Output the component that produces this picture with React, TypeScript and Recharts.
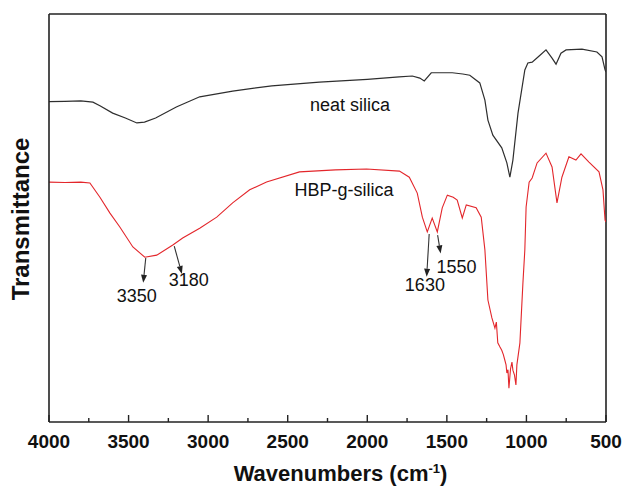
import { LineChart, Line, XAxis, YAxis, ReferenceLine, ReferenceDot } from "recharts";

const FONT = '"Liberation Sans", Arial, sans-serif';

// wavenumber (cm-1) and relative transmittance (arbitrary, 0-100)
const neatWn = [4000, 3900, 3800, 3724, 3680, 3600, 3520, 3448, 3400, 3330, 3200, 3053, 2846, 2600, 2301, 2000, 1800, 1717, 1670, 1642, 1598, 1466, 1400, 1356, 1293, 1261, 1242, 1211, 1155, 1123, 1104, 1085, 1053, 1010, 991, 964, 920, 877, 839, 814, 783, 751, 651, 557, 525, 506, 500];
const neatT = [78.5, 78.6, 78.7, 78.4, 77.5, 75.7, 74.5, 73.3, 73.5, 74.5, 77.2, 79.7, 81.1, 82.4, 83.3, 84.0, 84.6, 84.8, 84.3, 83.6, 85.6, 85.6, 85.3, 85.0, 83.1, 78.9, 74.0, 70.3, 67.2, 63.5, 60.0, 64.2, 75.7, 86.3, 88.0, 88.2, 89.7, 91.2, 89.2, 87.7, 90.4, 91.2, 91.4, 90.7, 89.5, 86.3, 85.8];

const hbpWn = [4000, 3900, 3800, 3743, 3680, 3617, 3555, 3473, 3398, 3323, 3222, 3160, 3053, 2946, 2846, 2739, 2633, 2426, 2200, 2005, 1798, 1736, 1686, 1654, 1623, 1592, 1560, 1529, 1497, 1460, 1435, 1403, 1378, 1316, 1284, 1261, 1242, 1217, 1198, 1189, 1180, 1168, 1155, 1145, 1136, 1128, 1123, 1116, 1110, 1100, 1091, 1085, 1075, 1066, 1060, 1041, 1022, 1010, 1002, 983, 964, 933, 877, 839, 808, 777, 733, 689, 657, 607, 544, 519, 506, 500];
const hbpT = [58.8, 58.7, 58.8, 58.6, 55.1, 51.2, 47.8, 42.9, 40.4, 40.9, 43.4, 45.1, 47.5, 50.2, 53.7, 56.9, 58.8, 61.3, 61.8, 62.0, 61.5, 60.0, 56.1, 50.2, 46.6, 50.0, 46.6, 52.5, 55.6, 55.1, 54.4, 50.0, 53.2, 52.5, 50.2, 42.2, 29.9, 25.5, 23.0, 24.5, 19.4, 18.5, 17.6, 16.5, 15.2, 14.0, 12.0, 12.8, 8.3, 13.0, 14.7, 12.7, 11.5, 9.1, 14.0, 19.4, 34.1, 42.2, 52.7, 58.8, 59.8, 63.5, 65.9, 62.5, 53.7, 60.0, 65.0, 64.2, 65.7, 63.7, 61.3, 56.9, 49.5, 49.0];

const xTicks = [4000, 3750, 3500, 3250, 3000, 2750, 2500, 2250, 2000, 1750, 1500, 1250, 1000, 750, 500];

// text labels: [text, wavenumber, transmittance]
const labelText = ["neat silica", "HBP-g-silica", "3350", "3180", "1630", "1550"];
const labelWn = [2109, 2146, 3449, 3122, 1638, 1440];
const labelT = [77.7, 56.9, 31.1, 34.8, 33.6, 38.0];

// arrows: from (wn1, t1) to (wn2, t2)
const arrowFromWn = [3392, 3213, 1611, 1558];
const arrowFromT = [40.2, 43.1, 46.1, 45.8];
const arrowToWn = [3408, 3165, 1627, 1539];
const arrowToT = [34.1, 36.3, 35.6, 41.3];

const neatData = neatWn.map((wn, i) => ({ wn, t: neatT[i] }));
const hbpData = hbpWn.map((wn, i) => ({ wn, t: hbpT[i] }));

const XTick = (props: any) => {
  const { x, y, payload } = props;
  const major = payload.value % 500 === 0;
  return (
    <g>
      <line x1={x} x2={x} y1={y} y2={y - (major ? 7 : 4)} stroke="#222" strokeWidth={1.4} />
      {major && (
        <text x={x} y={y + 19} dy="0.36em" textAnchor="middle" fontFamily={FONT} fontWeight="bold" fontSize={19} fill="#111">
          {payload.value}
        </text>
      )}
    </g>
  );
};

const Arrow = (props: any) => {
  const { x1, y1, x2, y2 } = props;
  const dx = x2 - x1;
  const dy = y2 - y1;
  const len = Math.sqrt(dx * dx + dy * dy) || 1;
  const ux = dx / len;
  const uy = dy / len;
  const hl = 8;
  const hw = 3;
  const bx = x2 - ux * hl;
  const by = y2 - uy * hl;
  return (
    <g>
      <line x1={x1} y1={y1} x2={bx} y2={by} stroke="#333" strokeWidth={1.1} />
      <polygon
        points={`${x2},${y2} ${bx - uy * hw},${by + ux * hw} ${bx + uy * hw},${by - ux * hw}`}
        fill="#222"
      />
    </g>
  );
};

export default function App() {
  return (
    <div style={{ position: "absolute", left: 0, top: 0, background: "#fff" }}>
      <LineChart width={624} height={487} margin={{ top: 14, right: 18, left: 0, bottom: 0 }}>
        <XAxis
          dataKey="wn"
          type="number"
          domain={[500, 4000]}
          reversed
          ticks={xTicks}
          interval={0}
          tickSize={0}
          tickMargin={0}
          tickLine={false}
          tick={<XTick />}
          height={65}
          axisLine={{ stroke: "#222", strokeWidth: 1.6 }}
          allowDataOverflow
          label={{
            content: (p: any) => {
              const vb = p.viewBox;
              return (
                <text x={vb.x + vb.width / 2 + 13} y={vb.y + 51} dy="0.36em" textAnchor="middle" fontFamily={FONT} fontWeight="bold" fontSize={22} fill="#111">
                  Wavenumbers (cm
                  <tspan dy="-8" fontSize={13}>-1</tspan>
                  <tspan dy="8">)</tspan>
                </text>
              );
            },
          }}
        />
        <YAxis
          type="number"
          domain={[0, 100]}
          width={49}
          tick={false}
          tickLine={false}
          axisLine={{ stroke: "#222", strokeWidth: 1.6 }}
          allowDataOverflow
          label={{
            content: (p: any) => {
              const vb = p.viewBox;
              const cy = vb.y + vb.height / 2 + 1;
              return (
                <text x={20} y={cy} dy="0.36em" transform={`rotate(-90 20 ${cy})`} textAnchor="middle" fontFamily={FONT} fontWeight="bold" fontSize={24} fill="#111">
                  Transmittance
                </text>
              );
            },
          }}
        />
        <ReferenceLine y={100} stroke="#222" strokeWidth={1.6} />
        <ReferenceLine x={500} stroke="#222" strokeWidth={1.6} />
        <Line data={neatData} dataKey="t" type="linear" stroke="#2e2e2e" strokeWidth={1.2} dot={false} isAnimationActive={false} />
        <Line data={hbpData} dataKey="t" type="linear" stroke="#e3262b" strokeWidth={1.1} dot={false} isAnimationActive={false} />
        {arrowFromWn.map((wn, i) => (
          <ReferenceLine
            key={"a" + i}
            segment={[
              { x: wn, y: arrowFromT[i] },
              { x: arrowToWn[i], y: arrowToT[i] },
            ]}
            shape={Arrow}
          />
        ))}
        {labelText.map((txt, i) => (
          <ReferenceDot
            key={"l" + i}
            x={labelWn[i]}
            y={labelT[i]}
            r={0}
            shape={(p: any) => (
              <text x={p.cx} y={p.cy} dy="0.36em" textAnchor="middle" fontFamily={FONT} fontSize={18} fill="#111">
                {txt}
              </text>
            )}
          />
        ))}
      </LineChart>
    </div>
  );
}
